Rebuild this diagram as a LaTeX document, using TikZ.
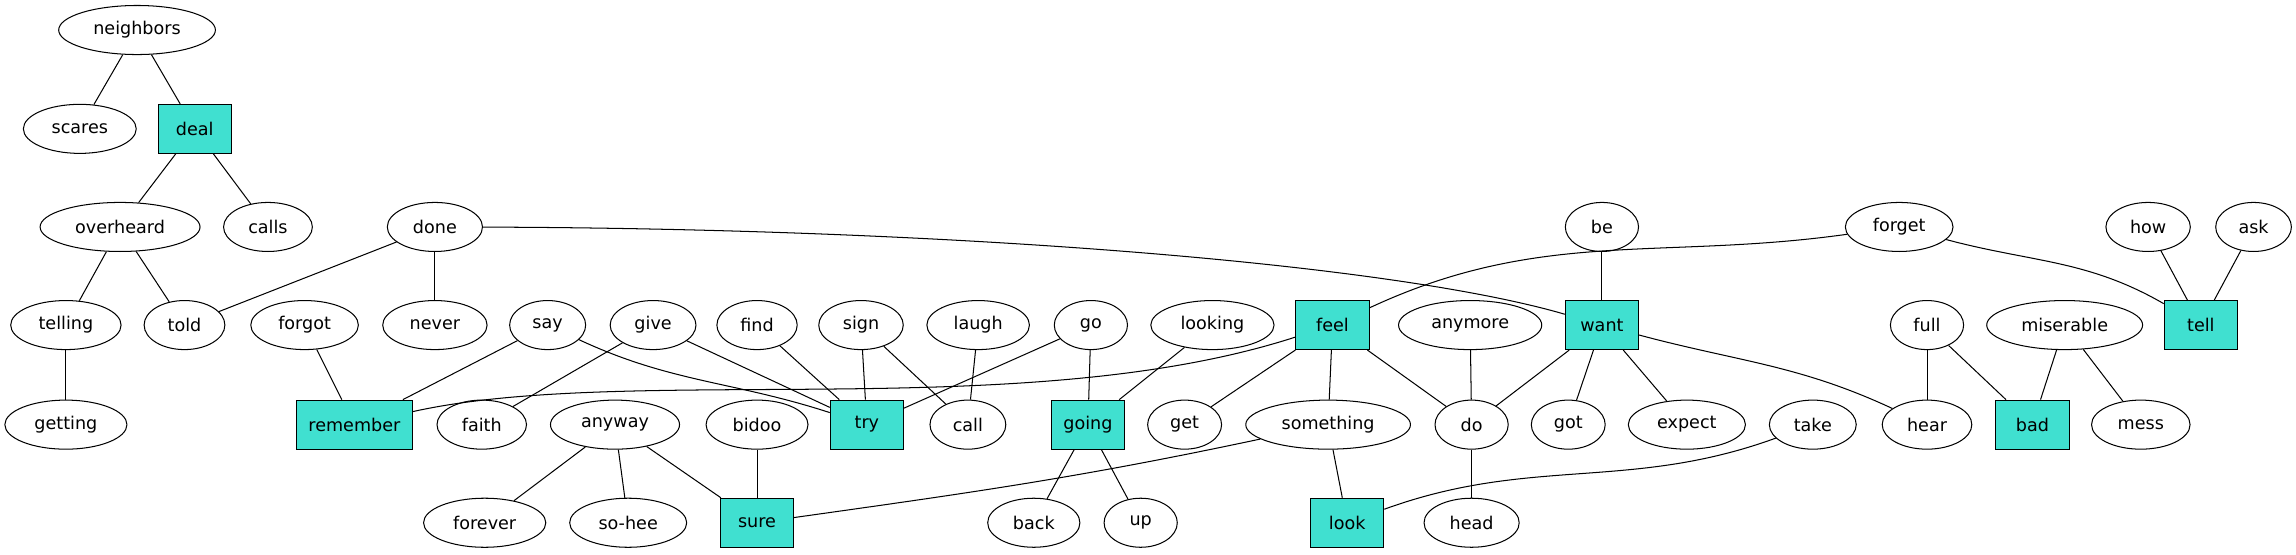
\documentclass[tikz,border=0pt]{standalone}
\usepackage{fontspec}
\setmainfont{DejaVu Sans}
\usetikzlibrary{shapes.geometric}
\definecolor{turq}{RGB}{64,224,208}

\begin{document}
\begin{tikzpicture}[x=1pt,y=-1pt,line width=0.7pt,
		word/.style={draw,ellipse,minimum width=50pt,minimum height=33.5pt,inner xsep=8pt,inner ysep=1pt,font=\fontsize{12}{14}\selectfont},
		key/.style={draw,fill=turq,minimum width=50pt,minimum height=33.5pt,inner xsep=8pt,inner ysep=1pt,font=\fontsize{12}{14}\selectfont}]
		\useasboundingbox (0,0) rectangle (1568,379);
		% top rows
		\node[word] (neighbors) at (93.6,20.5) {neighbors};
		\node[word] (scares) at (54.5,88) {scares};
		\node[key] (deal) at (133,88) {deal};
		\node[word] (overheard) at (82,155) {overheard};
		\node[word] (calls) at (183,155) {calls};
		\node[word] (done) at (297,155) {done};
		\node[word] (be) at (1094,155) {be};
		\node[word] (forget) at (1297,155) {forget};
		\node[word] (how) at (1467,155) {how};
		\node[word] (ask) at (1539,155) {ask};
		% middle row
		\node[word] (telling) at (45,222) {telling};
		\node[word] (told) at (126,222) {told};
		\node[word] (forgot) at (208,222) {forgot};
		\node[word] (never) at (297,222) {never};
		\node[word] (say) at (374,222) {say};
		\node[word] (give) at (446,222) {give};
		\node[word] (find) at (517,222) {find};
		\node[word] (sign) at (588,222) {sign};
		\node[word] (laugh) at (668,222) {laugh};
		\node[word] (go) at (745,222) {go};
		\node[word] (looking) at (828,222) {looking};
		\node[key] (feel) at (910,222) {feel};
		\node[word] (anymore) at (1004,222) {anymore};
		\node[key] (want) at (1094,222) {want};
		\node[word] (full) at (1316,222) {full};
		\node[word] (miserable) at (1410,222) {miserable};
		\node[key] (tell) at (1503,222) {tell};
		% lower rows
		\node[word] (getting) at (45,290) {getting};
		\node[key] (remember) at (242,290) {remember};
		\node[word] (faith) at (329,290) {faith};
		\node[word] (anyway) at (420,290) {anyway};
		\node[word] (bidoo) at (517,290) {bidoo};
		\node[key] (try) at (592,290) {try};
		\node[word] (call) at (661,290) {call};
		\node[key] (going) at (743,290) {going};
		\node[word] (get) at (809,290) {get};
		\node[word] (something) at (907,290) {something};
		\node[word] (do) at (1005,290) {do};
		\node[word] (got) at (1071,290) {got};
		\node[word] (expect) at (1152,290) {expect};
		\node[word] (take) at (1238,290) {take};
		\node[word] (hear) at (1316,290) {hear};
		\node[key] (bad) at (1388,290) {bad};
		\node[word] (mess) at (1462,290) {mess};
		\node[word] (forever) at (331,357) {forever};
		\node[word] (sohee) at (429,357) {so-hee};
		\node[key] (sure) at (517,357) {sure};
		\node[word] (back) at (706,357) {back};
		\node[word] (up) at (779,357) {up};
		\node[key] (look) at (920,357) {look};
		\node[word] (head) at (1005,357) {head};
		% straight links
		\foreach \a/\b in {neighbors/scares,neighbors/deal,deal/overheard,deal/calls,overheard/telling,overheard/told,
				telling/getting,done/told,done/never,forgot/remember,say/remember,give/faith,give/try,find/try,
				sign/try,sign/call,laugh/call,go/try,go/going,looking/going,feel/get,feel/something,feel/do,
				be/want,anymore/do,want/do,want/got,want/expect,full/hear,full/bad,miserable/bad,miserable/mess,
				how/tell,ask/tell,anyway/forever,anyway/sohee,anyway/sure,bidoo/sure,something/look,do/head,
				going/back,going/up}
			\draw (\a) -- (\b);
		% curved links
		\draw (done) .. controls (650,156) and (950,180) .. (want);
		\draw (remember) .. controls (430,248) and (700,290) .. (feel);
		\draw (say) to[out=-25,in=162] (try);
		\draw (something) to[out=192,in=8] (sure);
		\draw (take) to[out=200,in=20] (look);
		\draw (forget) to[out=188,in=25] (feel);
		\draw (forget) to[out=-15,in=150] (tell);
		\draw (want) to[out=-15,in=155] (hear);
	\end{tikzpicture}
\end{document}
